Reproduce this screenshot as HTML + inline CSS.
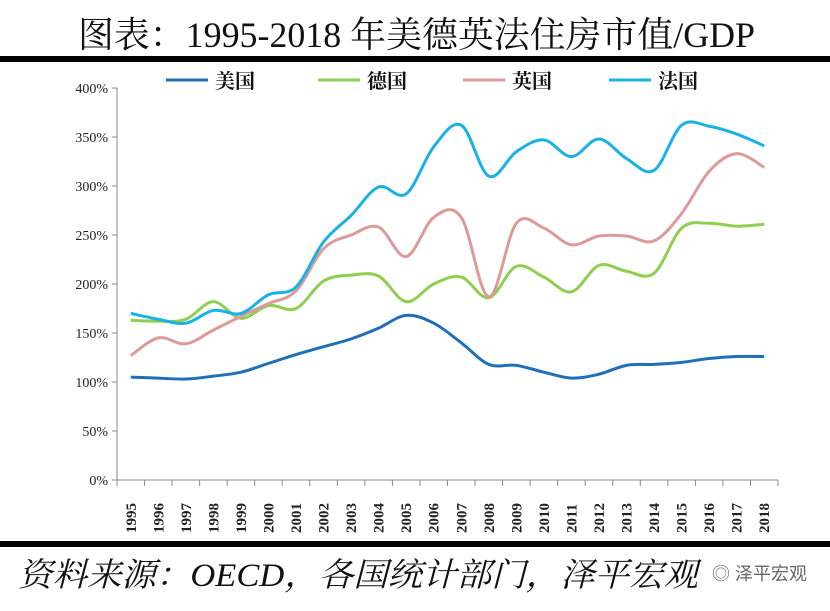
<!DOCTYPE html>
<html><head><meta charset="utf-8"><style>
body{margin:0;background:#fff;width:830px;height:606px;overflow:hidden;font-family:"Liberation Serif","Noto Serif CJK SC",serif}
</style></head><body>
<svg id="c" width="830" height="606">
<text x="78" y="47" textLength="677" lengthAdjust="spacingAndGlyphs" font-size="36" fill="#111" font-family="Liberation Serif, Noto Serif CJK SC, serif">图表：1995-2018 年美德英法住房市值/GDP</text>
<rect x="0" y="56" width="830" height="6" fill="#000"/>
<rect x="0" y="541" width="830" height="6" fill="#000"/>
<text x="18" y="586" textLength="680" lengthAdjust="spacingAndGlyphs" font-size="33" font-style="italic" fill="#111" font-family="Liberation Serif, Noto Serif CJK SC, serif">资料来源：OECD，各国统计部门，泽平宏观</text>
<text x="712" y="580" font-size="18" fill="#666" font-family="Liberation Sans, Noto Sans CJK SC, sans-serif">◎ 泽平宏观</text>
<g id="axes"></g><g id="lines"></g><g id="legend"></g>
</svg>
<script>
const years=["1995","1996","1997","1998","1999","2000","2001","2002","2003","2004","2005","2006","2007","2008","2009","2010","2011","2012","2013","2014","2015","2016","2017","2018"];
const usValues=[105,104,103,106,110,119,128,136,144,155,168,160,140,118,117,110,104,108,117,118,120,124,126,126];
const deValues=[163,162,164,182,165,178,175,203,209,208,182,200,207,186,218,207,192,219,213,211,257,262,259,261];
const ukValues=[127,145,139,153,167,180,193,236,250,258,228,268,268,187,262,257,240,249,249,244,272,315,333,319];
const frValues=[170,164,160,173,170,189,197,243,270,299,292,340,362,310,335,347,330,348,328,316,362,361,353,341];
const yTicks=[0,50,100,150,200,250,300,350,400];
const seriesNames=["美国","德国","英国","法国"];
const NS="http://www.w3.org/2000/svg";
const x0=117,x1=778,y0=480,y1=88;
const bw=(x1-x0)/years.length;
const xs=i=>x0+bw*(i+0.5);
const ys=v=>y0-(v/400)*(y0-y1);
function mk(t,a,p){const e=document.createElementNS(NS,t);for(const k in a)e.setAttribute(k,a[k]);p.appendChild(e);return e;}
const ax=document.getElementById('axes');
const yl=mk('line',{x1:x0,y1:y1,x2:x0,y2:y0,stroke:'#888'},ax);


const xl=mk('line',{x1:x0,y1:y0,x2:x1,y2:y0,stroke:'#888'},ax);


yTicks.forEach(v=>{
 mk('line',{x1:x0-5,y1:ys(v),x2:x0,y2:ys(v),stroke:'#888'},ax);
 const t=mk('text',{x:x0-9,y:ys(v)+5,'text-anchor':'end','font-size':14,fill:'#222'},ax);
 t.textContent=v+'%';
 
 
});
years.forEach((y,i)=>{
 mk('line',{x1:x0+bw*i,y1:y0,x2:x0+bw*i,y2:y0+6,stroke:'#888'},ax);
 const cx=xs(i)+5,cy=533;
 const t=mk('text',{x:cx,y:cy,transform:`rotate(-90 ${cx} ${cy})`,'font-size':15,'font-weight':'bold',fill:'#222'},ax);
 t.textContent=y;
 
 
});
mk('line',{x1:x1,y1:y0,x2:x1,y2:y0+6,stroke:'#888'},ax);
function path(vals){
 const p=vals.map((v,i)=>[xs(i),ys(v)]);
 let d=`M${p[0][0]},${p[0][1]}`;
 for(let i=0;i<p.length-1;i++){
  const a=p[i-1]||p[i],b=p[i],c=p[i+1],e=p[i+2]||c;
  const t=0.17;
  d+=` C${b[0]+(c[0]-a[0])*t},${b[1]+(c[1]-a[1])*t} ${c[0]-(e[0]-b[0])*t},${c[1]-(e[1]-b[1])*t} ${c[0]},${c[1]}`;
 }
 return d;
}
const colors=["#1f6fba","#8fcf50","#dc9a98","#1ab0e8"];
const data=[usValues,deValues,ukValues,frValues];
const ids=["us","germany","uk","france"];
const lg=document.getElementById('lines');
data.forEach((vals,k)=>{
 const l=mk('path',{d:path(vals),fill:'none',stroke:colors[k],'stroke-width':3},lg);
 
 
});
const leg=document.getElementById('legend');
const lx=[166,318,463,609];
seriesNames.forEach((n,k)=>{
 const g=mk('g',{},leg);
 
 
 mk('line',{x1:lx[k],y1:80,x2:lx[k]+42,y2:80,stroke:colors[k],'stroke-width':3},g);
 const t=mk('text',{x:lx[k]+49,y:88,'font-size':20,'font-weight':'bold',fill:'#111'},g);
 t.textContent=n;
});
</script>
</body></html>
